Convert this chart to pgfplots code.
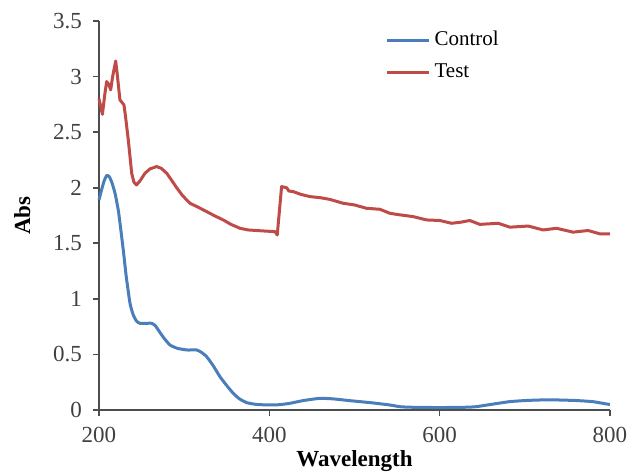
\documentclass[border=0pt]{standalone}
\usepackage{fontspec}
\setmainfont{Liberation Serif}
\usepackage{pgfplots}
\pgfplotsset{compat=1.18}
\definecolor{ctrlblue}{HTML}{4A7EBB}
\definecolor{testred}{HTML}{BE4B48}
\definecolor{axisgray}{HTML}{4D4D4D}

\begin{document}
\begin{tikzpicture}
  % page frame: 627x476 px at 0.5pt per px, axis box at its origin
  \useasboundingbox (-49.5pt,-33pt) rectangle (264pt,205pt);
  \begin{axis}[
    scale only axis,
    width=255.5pt, height=194.5pt,
    xmin=200, xmax=800, ymin=0, ymax=3.5,
    xtick={200,400,600,800},
    ytick={0,0.5,1,1.5,2,2.5,3,3.5},
    axis lines=left,
    axis line style={axisgray, line width=0.9pt, -},
    tick style={axisgray, line width=0.8pt},
    tick align=outside,
    major tick length=3pt,
    /pgf/number format/assume math mode=true,
    ticklabel style={font=\fontsize{11.5}{13}\selectfont, text=black!75},
    xticklabel style={yshift=-2pt},
    yticklabel style={xshift=-2pt},
    xlabel={\textbf{Wavelength}},
    ylabel={\textbf{Abs}},
    label style={font=\fontsize{11.5}{13}\selectfont},
    xlabel style={yshift=3pt},
    ylabel style={yshift=4.5pt},
    legend style={draw=none, fill=none, at={(rel axis cs:0.56,0.985)}, anchor=north west,
      font=\fontsize{10.5}{12}\selectfont, row sep=3.5pt, inner sep=0pt},
    legend cell align=left,
    legend image code/.code={\draw[#1, line width=1.5pt] (0pt,0pt) -- (21pt,0pt);},
    clip=false,
  ]
  \addplot[ctrlblue, line width=1.5pt, line join=round, smooth, tension=0.3] coordinates {
    (200,1.89) (203,1.98) (206,2.06) (209,2.11) (212,2.10) (215,2.05) (218.8,1.95)
    (223,1.78) (228.5,1.44) (232,1.20) (236.4,0.96) (240,0.86) (244,0.80) (248,0.78)
    (255,0.78) (261.9,0.78) (266,0.76) (269.6,0.72) (276,0.65) (283.3,0.585) (292,0.555)
    (303,0.54) (314.7,0.54) (320,0.52) (326.4,0.48) (334,0.40) (342,0.30) (350,0.22)
    (357.6,0.15) (365,0.10) (373.4,0.066) (385,0.05) (400.7,0.045) (412,0.048) (424,0.06)
    (440,0.085) (459.4,0.105) (475,0.10) (494.6,0.084) (520,0.065) (541.5,0.045)
    (553,0.03) (565,0.025) (600,0.022) (632,0.025) (643,0.03) (660,0.05) (682,0.075)
    (700,0.085) (717.6,0.09) (740,0.09) (760.7,0.085) (780,0.075) (796,0.054) (800,0.05)
  };
  \addlegendentry{Control}
  \addplot[testred, line width=1.5pt, line join=round] coordinates {
    (200,2.80) (204,2.66) (207,2.85) (209,2.955) (211.5,2.93) (213.7,2.88) (216,3.0)
    (219.6,3.14) (221,3.05) (224.6,2.79) (229.3,2.745) (231,2.65) (234.4,2.43)
    (238.4,2.13) (241,2.05) (244,2.025) (248,2.06) (254,2.13) (260,2.17) (267.7,2.19)
    (273,2.175) (279.5,2.13) (285,2.07) (291.2,2.00) (298,1.93) (306.8,1.86) (315,1.83)
    (326.4,1.785) (335,1.75) (345.9,1.71) (355,1.67) (365.5,1.635) (375,1.62)
    (385,1.615) (395,1.61) (406.6,1.605) (409.3,1.575) (414.4,2.01) (420.3,2.00)
    (423,1.97) (428,1.965) (437,1.94) (447.7,1.92) (460,1.91) (471,1.895) (486.7,1.86)
    (500,1.845) (514,1.815) (529.8,1.806) (541.5,1.77) (549.4,1.76) (568.9,1.74)
    (584.6,1.71) (600.2,1.705) (614,1.68) (625,1.69) (635.4,1.705) (647.2,1.67)
    (668.7,1.68) (682.4,1.645) (703.9,1.655) (721.5,1.62) (737.2,1.635) (756.7,1.60)
    (774.3,1.615) (788,1.585) (800,1.585)
  };
  \addlegendentry{Test}
  \end{axis}
\end{tikzpicture}
\end{document}
